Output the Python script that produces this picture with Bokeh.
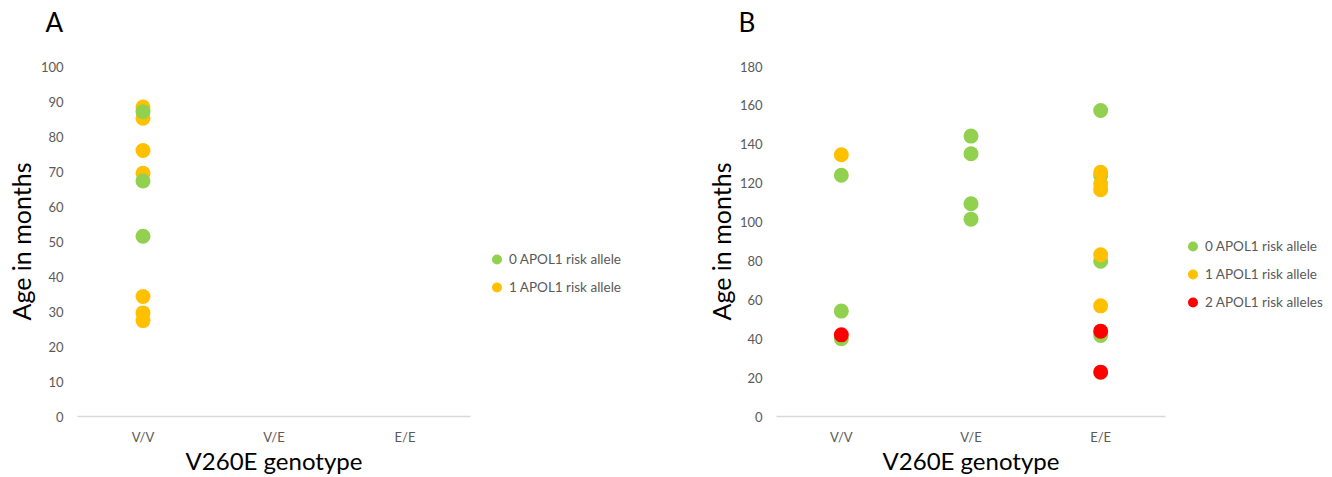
from bokeh.plotting import figure
from bokeh.models import FactorRange, Range1d, FixedTicker, Legend, LegendItem, Title
from bokeh.layouts import row
from bokeh.embed import file_html
from bokeh.resources import INLINE

FONT = "Lato"

genotypes = ["V/V", "V/E", "E/E"]
a_ticks = [0, 10, 20, 30, 40, 50, 60, 70, 80, 90, 100]
b_ticks = [0, 20, 40, 60, 80, 100, 120, 140, 160, 180]

legend_labels = ["0 APOL1 risk allele", "1 APOL1 risk allele", "2 APOL1 risk alleles"]
colors = ["#92D050", "#FFC000", "#FF0000"]

# Panel A
a_r0_geno = ["V/V", "V/V", "V/V"]
a_r0_age = [87.1, 67.3, 51.5]
a_r1_geno = ["V/V", "V/V", "V/V", "V/V", "V/V", "V/V", "V/V"]
a_r1_age = [88.4, 85.2, 76.0, 69.5, 34.3, 29.6, 27.4]

# Panel B
b_r0_geno = ["V/V", "V/V", "V/V", "V/E", "V/E", "V/E", "V/E", "E/E", "E/E", "E/E", "E/E"]
b_r0_age = [124.1, 54.2, 40.0, 144.2, 135.1, 109.4, 101.5, 157.4, 124.0, 79.9, 41.7]
b_r1_geno = ["V/V", "E/E", "E/E", "E/E", "E/E", "E/E"]
b_r1_age = [134.6, 125.6, 119.7, 116.6, 83.2, 56.9]
b_r2_geno = ["V/V", "E/E", "E/E"]
b_r2_age = [42.0, 43.9, 22.8]


def make_panel(letter, ticks, ymax, series, order, bl, fw, letter_off, ylab_standoff):
    width = bl + fw + 10
    p = figure(x_range=FactorRange(factors=genotypes, range_padding=0),
               y_range=Range1d(0, ymax), title=None,
               width=width, height=477,
               min_border_left=bl, min_border_right=10,
               min_border_top=66, min_border_bottom=61,
               output_backend="svg", toolbar_location=None)
    # spacer (closest to the frame), then the panel letter
    p.add_layout(Title(text=" ", text_font_size="1px", standoff=26), "above")
    p.add_layout(Title(text=letter, align="left", offset=letter_off, standoff=0,
                       text_font=FONT, text_font_size="26px",
                       text_font_style="normal", text_color="black"), "above")
    p.outline_line_color = None
    p.xgrid.grid_line_color = None
    p.ygrid.grid_line_color = None

    for i in order:
        geno, age = series[i]
        p.scatter(geno, age, size=15, marker="circle",
                  fill_color=colors[i], line_color=None)

    yax = p.yaxis[0]
    yax.ticker = FixedTicker(ticks=ticks)
    yax.axis_line_color = None
    yax.major_tick_line_color = None
    yax.minor_tick_line_color = None
    yax.major_tick_out = 0
    yax.major_tick_in = 0
    yax.major_label_standoff = 14
    yax.major_label_text_font = FONT
    yax.major_label_text_font_size = "13px"
    yax.major_label_text_color = "#595959"
    yax.axis_label = "Age in months"
    yax.axis_label_standoff = ylab_standoff
    yax.axis_label_text_font = FONT
    yax.axis_label_text_font_size = "25px"
    yax.axis_label_text_font_style = "normal"
    yax.axis_label_text_color = "black"

    xax = p.xaxis[0]
    xax.axis_line_color = "#D9D9D9"
    xax.axis_line_width = 1.5
    xax.major_tick_line_color = None
    xax.minor_tick_line_color = None
    xax.major_tick_out = 0
    xax.major_tick_in = 0
    xax.major_label_standoff = 12
    xax.major_label_text_font = FONT
    xax.major_label_text_font_size = "13px"
    xax.major_label_text_color = "#595959"
    xax.axis_label = "V260E genotype"
    xax.axis_label_standoff = -2
    xax.axis_label_text_font = FONT
    xax.axis_label_text_font_size = "24px"
    xax.axis_label_text_font_style = "normal"
    xax.axis_label_text_color = "black"
    return p


def make_legend(series, width, loc):
    # separate legend area; its renderers use the series but the view range
    # lies below all ages, so only the legend swatches are visible
    q = figure(width=width, height=477,
               x_range=FactorRange(factors=genotypes), y_range=Range1d(-2, -1),
               x_axis_type=None, y_axis_type=None, title=None, min_border=0,
               output_backend="svg", toolbar_location=None)
    q.outline_line_color = None
    q.xgrid.grid_line_color = None
    q.ygrid.grid_line_color = None
    items = []
    for i in sorted(series):
        geno, age = series[i]
        r = q.scatter(geno, age, size=15, marker="circle", fill_color=colors[i], line_color=None)
        items.append(LegendItem(label=legend_labels[i], renderers=[r]))
    legend = Legend(items=items, location=loc, orientation="vertical",
                    padding=0, margin=0, spacing=0, glyph_width=25, glyph_height=28,
                    label_standoff=0, label_height=28,
                    label_text_font=FONT, label_text_font_size="13.5px",
                    label_text_color="#595959", border_line_color=None,
                    background_fill_alpha=0)
    q.add_layout(legend)
    return q


series_a = {0: (a_r0_geno, a_r0_age), 1: (a_r1_geno, a_r1_age)}
series_b = {0: (b_r0_geno, b_r0_age), 1: (b_r1_geno, b_r1_age), 2: (b_r2_geno, b_r2_age)}

pA = make_panel("A", a_ticks, 100, series_a, [1, 0], 77, 393, -32, 2)
lA = make_legend(series_a, 690 - pA.width, (4, 115))
pB = make_panel("B", b_ticks, 180, series_b, [0, 1, 2], 86, 389, -38, 1)
lB = make_legend(series_b, 1332 - 690 - pB.width, (5, 100))

layout = row(pA, lA, pB, lB)
open("out.html", "w").write(file_html(layout, INLINE))
